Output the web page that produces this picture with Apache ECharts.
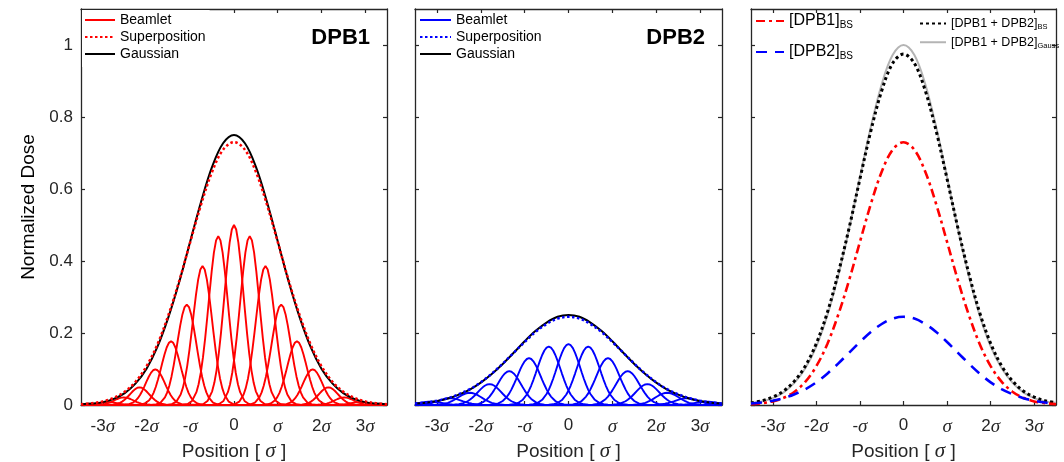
<!DOCTYPE html>
<html>
<head>
<meta charset="utf-8">
<script src="https://cdn.jsdelivr.net/npm/echarts@6/dist/echarts.min.js"></script>
<style>
  html, body { margin: 0; padding: 0; background: #fff; }
  #chart { width: 1064px; height: 462px; }
</style>
</head>
<body>
<div id="chart"></div>
<script>
// positions are in units of sigma
const xGrid = [-3.5, -3.25, -3, -2.75, -2.5, -2.25, -2, -1.75, -1.5, -1.25, -1, -0.75, -0.5, -0.25, 0,
  0.25, 0.5, 0.75, 1, 1.25, 1.5, 1.75, 2, 2.25, 2.5, 2.75, 3, 3.25, 3.5];
const xTicks = [-3, -2, -1, 0, 1, 2, 3];
const yTicks = [0, 0.2, 0.4, 0.6, 0.8, 1];

// DPB1 envelopes
const dpb1Gauss = [0.002, 0.004, 0.008, 0.017, 0.033, 0.060, 0.101, 0.162, 0.244, 0.343, 0.455, 0.566, 0.662, 0.727, 0.75,
  0.727, 0.662, 0.566, 0.455, 0.343, 0.244, 0.162, 0.101, 0.060, 0.033, 0.017, 0.008, 0.004, 0.002];
const dpb1Super = [0.002, 0.005, 0.010, 0.020, 0.037, 0.065, 0.108, 0.169, 0.250, 0.346, 0.453, 0.558, 0.648, 0.709, 0.73,
  0.709, 0.648, 0.558, 0.453, 0.346, 0.250, 0.169, 0.108, 0.065, 0.037, 0.020, 0.010, 0.005, 0.002];
// DPB1 beamlets
const dpb1Centers = [-2.88, -2.52, -2.16, -1.80, -1.44, -1.08, -0.72, -0.36, 0, 0.36, 0.72, 1.08, 1.44, 1.80, 2.16, 2.52, 2.88];
const dpb1Peaks = [0.008, 0.021, 0.049, 0.099, 0.177, 0.279, 0.386, 0.469, 0.5, 0.469, 0.386, 0.279, 0.177, 0.099, 0.049, 0.021, 0.008];
const dpb1ProfX = [-0.8, -0.7, -0.6, -0.5, -0.45, -0.4, -0.35, -0.3, -0.25, -0.2, -0.15, -0.1, -0.05, 0,
  0.05, 0.1, 0.15, 0.2, 0.25, 0.3, 0.35, 0.4, 0.45, 0.5, 0.6, 0.7, 0.8];
const dpb1ProfY = [0.001, 0.006, 0.024, 0.076, 0.123, 0.191, 0.282, 0.395, 0.524, 0.662, 0.793, 0.902, 0.975, 1,
  0.975, 0.902, 0.793, 0.662, 0.524, 0.395, 0.282, 0.191, 0.123, 0.076, 0.024, 0.006, 0.001];

// DPB2 envelopes
const dpb2Gauss = [0.004, 0.006, 0.011, 0.018, 0.029, 0.043, 0.062, 0.086, 0.114, 0.145, 0.177, 0.206, 0.229, 0.245, 0.25,
  0.245, 0.229, 0.206, 0.177, 0.145, 0.114, 0.086, 0.062, 0.043, 0.029, 0.018, 0.011, 0.006, 0.004];
const dpb2Super = [0.004, 0.007, 0.012, 0.019, 0.030, 0.044, 0.063, 0.087, 0.115, 0.145, 0.175, 0.203, 0.225, 0.240, 0.245,
  0.240, 0.225, 0.203, 0.175, 0.145, 0.115, 0.087, 0.063, 0.044, 0.030, 0.019, 0.012, 0.007, 0.004];
// DPB2 beamlets
const dpb2Centers = [-3.15, -2.70, -2.25, -1.80, -1.35, -0.90, -0.45, 0, 0.45, 0.90, 1.35, 1.80, 2.25, 2.70, 3.15];
const dpb2Peaks = [0.009, 0.019, 0.034, 0.058, 0.094, 0.130, 0.162, 0.169, 0.162, 0.130, 0.094, 0.058, 0.034, 0.019, 0.009];
const dpb2ProfX = [-1.0, -0.9, -0.8, -0.7, -0.6, -0.5, -0.45, -0.4, -0.35, -0.3, -0.25, -0.2, -0.15, -0.1, -0.05, 0,
  0.05, 0.1, 0.15, 0.2, 0.25, 0.3, 0.35, 0.4, 0.45, 0.5, 0.6, 0.7, 0.8, 0.9, 1.0];
const dpb2ProfY = [0.001, 0.004, 0.012, 0.035, 0.085, 0.180, 0.249, 0.334, 0.432, 0.539, 0.651, 0.760, 0.857, 0.934, 0.983, 1,
  0.983, 0.934, 0.857, 0.760, 0.651, 0.539, 0.432, 0.334, 0.249, 0.180, 0.085, 0.035, 0.012, 0.004, 0.001];

// combined (panel 3)
const sumBS = [0.006, 0.012, 0.022, 0.039, 0.067, 0.109, 0.171, 0.256, 0.365, 0.491, 0.628, 0.761, 0.873, 0.949, 0.975,
  0.949, 0.873, 0.761, 0.628, 0.491, 0.365, 0.256, 0.171, 0.109, 0.067, 0.039, 0.022, 0.012, 0.006];
const sumGauss = [0.006, 0.010, 0.019, 0.035, 0.062, 0.103, 0.163, 0.248, 0.358, 0.488, 0.632, 0.772, 0.891, 0.972, 1.0,
  0.972, 0.891, 0.772, 0.632, 0.488, 0.358, 0.248, 0.163, 0.103, 0.062, 0.035, 0.019, 0.010, 0.006];

const xMin = -3.5, xMax = 3.5;
const FONT = 'Liberation Sans, Arial, Helvetica, sans-serif';
const SERIF = 'Liberation Serif, DejaVu Serif, serif';
const AX = '#262626';
const grids = [
  { left: 81, top: 9, width: 306, height: 396, outerBoundsMode: 'none', containLabel: false },
  { left: 415, top: 9, width: 307, height: 396, outerBoundsMode: 'none', containLabel: false },
  { left: 751, top: 9, width: 305, height: 396, outerBoundsMode: 'none', containLabel: false }
];

const pair = arr => xGrid.map((x, i) => [x, arr[i]]);

function beamlet(c, peak, offs, prof) {
  const pts = [[xMin, 0]];
  offs.forEach((o, i) => {
    const x = c + o;
    if (x > xMin && x < xMax) pts.push([x, peak * prof[i]]);
  });
  pts.push([xMax, 0]);
  return pts;
}

const sigmaRich = { s: { fontFamily: SERIF, fontStyle: 'italic', fontSize: 19, color: AX } };
const tickFmt = v => {
  if (v === 0) return '0';
  if (v === 1) return '{s|σ}';
  if (v === -1) return '-{s|σ}';
  return v + '{s|σ}';
};

const xAxis = [], yAxis = [];
grids.forEach((g, i) => {
  const line = { show: true, onZero: false, lineStyle: { color: AX, width: 1.3 } };
  const tick = { show: true, inside: true, length: 4, lineStyle: { color: AX, width: 1.2 } };
  xAxis.push({
    type: 'value', gridIndex: i, min: xMin, max: xMax, position: 'bottom',
    axisLine: line,
    axisTick: Object.assign({ customValues: xTicks }, tick),
    axisLabel: { customValues: xTicks, formatter: tickFmt, rich: sigmaRich, fontSize: 17, color: AX, fontFamily: FONT, margin: 12 },
    splitLine: { show: false },
    name: 'Position [ {s|σ} ]', nameLocation: 'middle', nameGap: 28,
    nameTextStyle: { fontSize: 19, color: AX, fontFamily: FONT, rich: { s: { fontFamily: SERIF, fontStyle: 'italic', fontSize: 21, color: AX } } }
  });
  xAxis.push({
    type: 'value', gridIndex: i, min: xMin, max: xMax, position: 'top',
    axisLine: line,
    axisTick: Object.assign({ customValues: xTicks }, tick),
    axisLabel: { show: false }, splitLine: { show: false }
  });
  yAxis.push({
    type: 'value', gridIndex: i, min: 0, max: 1.1, position: 'left',
    axisLine: line,
    axisTick: Object.assign({ customValues: yTicks }, tick),
    axisLabel: { show: i === 0, customValues: yTicks, fontSize: 17, color: AX, fontFamily: FONT, margin: 8 },
    splitLine: { show: false },
    name: i === 0 ? 'Normalized Dose' : '', nameLocation: 'middle', nameGap: 43, nameRotate: 90,
    nameTextStyle: { fontSize: 19, color: '#000', fontFamily: FONT }
  });
  yAxis.push({
    type: 'value', gridIndex: i, min: 0, max: 1.1, position: 'right',
    axisLine: line,
    axisTick: Object.assign({ customValues: yTicks }, tick),
    axisLabel: { show: false }, splitLine: { show: false }
  });
});

const series = [];
const base = { type: 'line', symbol: 'none', silent: true, clip: true };

dpb1Centers.forEach((c, k) => series.push(Object.assign({}, base, {
  name: 'p1 Beamlet', xAxisIndex: 0, yAxisIndex: 0,
  lineStyle: { color: '#ff0000', width: 1.9 }, itemStyle: { color: '#ff0000' },
  data: beamlet(c, dpb1Peaks[k], dpb1ProfX, dpb1ProfY)
})));
series.push(Object.assign({}, base, {
  name: 'p1 Gaussian', xAxisIndex: 0, yAxisIndex: 0, smooth: 0.35,
  lineStyle: { color: '#000', width: 2 }, itemStyle: { color: '#000' },
  data: pair(dpb1Gauss)
}));
series.push(Object.assign({}, base, {
  name: 'p1 Superposition', xAxisIndex: 0, yAxisIndex: 0, smooth: 0.35,
  lineStyle: { color: '#ff0000', width: 2.5, type: [2.5, 2.5] }, itemStyle: { color: '#ff0000' },
  data: pair(dpb1Super)
}));

dpb2Centers.forEach((c, k) => series.push(Object.assign({}, base, {
  name: 'p2 Beamlet', xAxisIndex: 2, yAxisIndex: 2,
  lineStyle: { color: '#0000ff', width: 1.9 }, itemStyle: { color: '#0000ff' },
  data: beamlet(c, dpb2Peaks[k], dpb2ProfX, dpb2ProfY)
})));
series.push(Object.assign({}, base, {
  name: 'p2 Gaussian', xAxisIndex: 2, yAxisIndex: 2, smooth: 0.35,
  lineStyle: { color: '#000', width: 2 }, itemStyle: { color: '#000' },
  data: pair(dpb2Gauss)
}));
series.push(Object.assign({}, base, {
  name: 'p2 Superposition', xAxisIndex: 2, yAxisIndex: 2, smooth: 0.35,
  lineStyle: { color: '#0000ff', width: 2.5, type: [2.5, 2.5] }, itemStyle: { color: '#0000ff' },
  data: pair(dpb2Super)
}));

series.push(Object.assign({}, base, {
  name: 'SUM_Gauss', xAxisIndex: 4, yAxisIndex: 4, smooth: 0.35,
  lineStyle: { color: '#b4b4b4', width: 2 }, itemStyle: { color: '#b4b4b4' },
  data: pair(sumGauss)
}));
series.push(Object.assign({}, base, {
  name: 'SUM_BS', xAxisIndex: 4, yAxisIndex: 4, smooth: 0.35,
  lineStyle: { color: '#000', width: 3, type: [3, 3] }, itemStyle: { color: '#000' },
  data: pair(sumBS)
}));
series.push(Object.assign({}, base, {
  name: 'DPB1_BS', xAxisIndex: 4, yAxisIndex: 4, smooth: 0.35,
  lineStyle: { color: '#ff0000', width: 2.6, type: [9, 4, 3, 4] }, itemStyle: { color: '#ff0000' },
  data: pair(dpb1Super)
}));
series.push(Object.assign({}, base, {
  name: 'DPB2_BS', xAxisIndex: 4, yAxisIndex: 4, smooth: 0.35,
  lineStyle: { color: '#0000ff', width: 2.6, type: [11, 8] }, itemStyle: { color: '#0000ff' },
  data: pair(dpb2Super)
}));

// hide the symbol in the legend icons, keep the line
const noSymbol = { color: 'rgba(0,0,0,0)', borderWidth: 0, opacity: 0 };
const legTxt = { fontSize: 14, color: '#000', fontFamily: FONT, lineHeight: 14 };
const subRich = (big, small) => ({
  m: { fontSize: big, color: '#000', fontFamily: FONT, lineHeight: big + 2 },
  s: { fontSize: small, color: '#000', fontFamily: FONT, verticalAlign: 'bottom', lineHeight: small + 1 }
});
const legendLabels = {
  DPB1_BS: '{m|[DPB1]}{s|BS}',
  DPB2_BS: '{m|[DPB2]}{s|BS}',
  SUM_BS: '{m|[DPB1 + DPB2]}{s|BS}',
  SUM_Gauss: '{m|[DPB1 + DPB2]}{s|Gauss}'
};

const option = {
  animation: false,
  backgroundColor: '#fff',
  title: [
    { text: 'DPB1', right: 694, top: 27, padding: 0, textStyle: { fontSize: 22, fontWeight: 'bold', color: '#000', fontFamily: FONT } },
    { text: 'DPB2', right: 359, top: 27, padding: 0, textStyle: { fontSize: 22, fontWeight: 'bold', color: '#000', fontFamily: FONT } }
  ],
  legend: [
    {
      left: 82, top: 10, orient: 'vertical', padding: [3, 4, 6, 2], backgroundColor: '#fff',
      itemWidth: 30, itemHeight: 14, itemGap: 3, selectedMode: false, itemStyle: noSymbol,
      data: ['p1 Beamlet', 'p1 Superposition', 'p1 Gaussian'],
      formatter: n => n.slice(3), textStyle: legTxt
    },
    {
      left: 417, top: 10, orient: 'vertical', padding: [3, 4, 6, 2],
      itemWidth: 31, itemHeight: 14, itemGap: 3, selectedMode: false, itemStyle: noSymbol,
      data: ['p2 Beamlet', 'p2 Superposition', 'p2 Gaussian'],
      formatter: n => n.slice(3), textStyle: legTxt
    },
    {
      left: 753, top: 11, orient: 'vertical', padding: 2,
      itemWidth: 28, itemHeight: 14, itemGap: 14, itemTextGap: 11, selectedMode: false, itemStyle: noSymbol,
      data: ['DPB1_BS', 'DPB2_BS'],
      formatter: n => legendLabels[n], textStyle: { rich: subRich(16, 10) }
    },
    {
      left: 919, top: 17, orient: 'vertical', padding: 0,
      itemWidth: 26, itemHeight: 12, itemGap: 5, itemTextGap: 1, selectedMode: false, itemStyle: noSymbol,
      data: ['SUM_BS', 'SUM_Gauss'],
      formatter: n => legendLabels[n], textStyle: { rich: subRich(12.5, 7.5) }
    }
  ],
  grid: grids,
  xAxis: xAxis,
  yAxis: yAxis,
  series: series
};

const chart = echarts.init(document.getElementById('chart'));
chart.setOption(option);
window.addEventListener('resize', () => chart.resize());
</script>
</body>
</html>
